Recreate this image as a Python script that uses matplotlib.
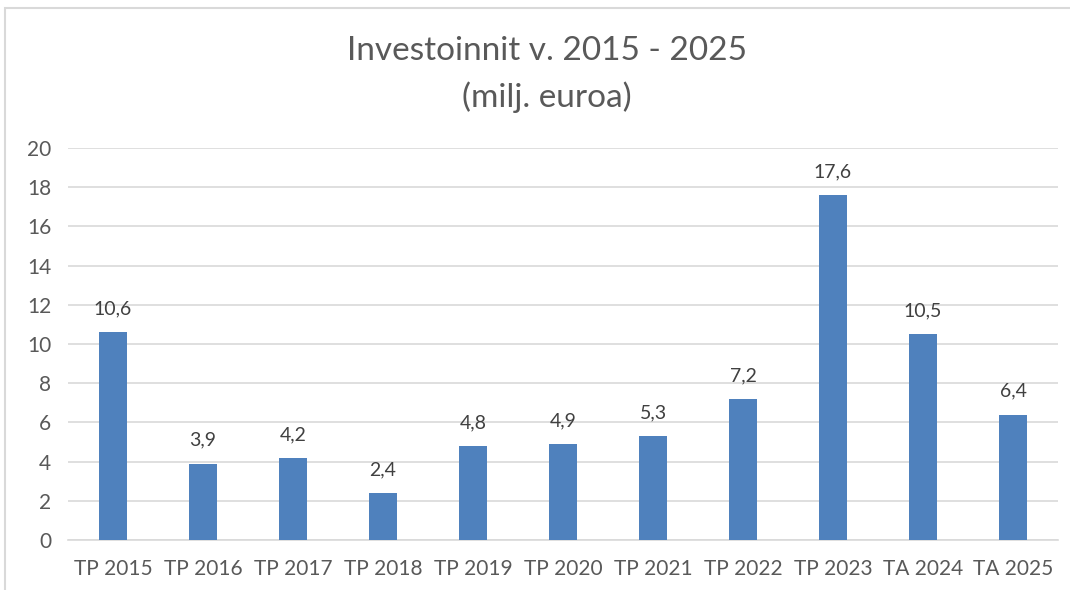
import matplotlib
matplotlib.use("Agg")
import matplotlib.pyplot as plt
from matplotlib.patches import Rectangle

categories = ["TP 2015", "TP 2016", "TP 2017", "TP 2018", "TP 2019", "TP 2020",
              "TP 2021", "TP 2022", "TP 2023", "TA 2024", "TA 2025"]
values = [10.6, 3.9, 4.2, 2.4, 4.8, 4.9, 5.3, 7.2, 17.6, 10.5, 6.4]
labels = ["10,6", "3,9", "4,2", "2,4", "4,8", "4,9", "5,3", "7,2", "17,6", "10,5", "6,4"]

plt.rcParams['font.family'] = ['Lato', 'DejaVu Sans']
TXT = '#595959'

fig = plt.figure(figsize=(10.7, 5.9), dpi=100)
fig.patch.set_facecolor('white')
ax = fig.add_axes([68/1070, 50/590, 990/1070, 392/590])

x = range(len(categories))
ax.bar(x, values, width=0.32, color='#4f81bd', zorder=3)
for i, (v, l) in enumerate(zip(values, labels)):
    ax.text(i, v + 0.75, l, ha='center', va='bottom', fontsize=14, color='#404040')

ax.set_xlim(-0.5, len(categories) - 0.5)
ax.set_ylim(0, 20)
ax.set_yticks(range(0, 21, 2))
ax.set_xticks(list(x))
ax.set_xticklabels(categories)
ax.tick_params(axis='both', length=0, labelsize=15, colors=TXT)
ax.tick_params(axis='y', pad=12)
ax.tick_params(axis='x', pad=14)
ax.grid(axis='y', color='#d9d9d9', linewidth=1.2, zorder=0)
for s in ['top', 'right', 'left']:
    ax.spines[s].set_visible(False)
ax.spines['bottom'].set_color('#d9d9d9')
ax.spines['bottom'].set_linewidth(1.2)

fig.text(547/1070, 1 - 51/590, "Investoinnit v. 2015 - 2025", ha='center', va='center',
         fontsize=24, color=TXT)
fig.text(547/1070, 1 - 97/590, "(milj. euroa)", ha='center', va='center',
         fontsize=24, color=TXT)

fig.patches.append(Rectangle((5/1070, -0.1), 1.2, 1 - 8/590 + 0.1, transform=fig.transFigure,
                             fill=False, edgecolor='#d9d9d9', linewidth=1.5))

fig.savefig('out.png', dpi=100)
